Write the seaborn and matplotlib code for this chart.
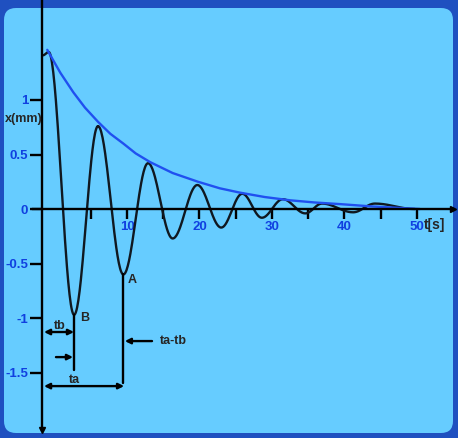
import seaborn as sns
import matplotlib.pyplot as plt
import pandas as pd
import numpy as np
from matplotlib.patches import FancyBboxPatch
from matplotlib.transforms import IdentityTransform

sns.set_style("white")
plt.rcParams['font.family'] = ['Liberation Sans', 'DejaVu Sans']
plt.rcParams['font.weight'] = 'bold'

# extrema of the damped oscillation (t in s, x in mm)
ext_t = [-1.6, -0.8, 2.7, 6.0, 9.5, 12.9, 16.3, 19.7, 23.0, 25.9, 28.6, 31.5, 34.6, 36.9, 41.2, 44.2, 49.7]
ext_x = [1.41, 1.44, -0.97, 0.76, -0.60, 0.42, -0.27, 0.22, -0.17, 0.14, -0.08, 0.09, -0.04, 0.05, -0.03, 0.05, 0.0]

# envelope points
env_t = [-1.0, 0.8, 2.6, 4.2, 6.0, 7.7, 9.5, 11.2, 13.2, 16.3, 19.8, 22.8, 25.6, 29.0, 32.5, 35.9, 39.4, 43.5, 47.0, 50.4]
env_x = [1.46, 1.25, 1.07, 0.93, 0.80, 0.69, 0.60, 0.51, 0.43, 0.33, 0.25, 0.19, 0.15, 0.11, 0.08, 0.06, 0.045, 0.025, 0.012, 0.0]

x_ticks = [5, 10, 15, 20, 25, 30, 35, 40, 45, 50]
x_ticklabels = ['', '10', '', '20', '', '30', '', '40', '', '50']
y_ticks = [-1.5, -1, -0.5, 0, 0.5, 1]
y_ticklabels = ['-1.5', '-1', '-0.5', '0', '0.5', '1']

bg = '#66CCFF'
frame = '#1F50C0'
tick_blue = '#1040E0'
env_blue = '#2050F0'

# smooth curve: half-cosine between successive extrema
tt, xx = [], []
for i in range(len(ext_t) - 1):
    s = np.linspace(0, 1, 40)
    tt.extend(ext_t[i] + s * (ext_t[i + 1] - ext_t[i]))
    xx.extend(ext_x[i + 1] + (ext_x[i] - ext_x[i + 1]) * (1 + np.cos(np.pi * s)) / 2)
curve = pd.DataFrame({'t': tt, 'x': xx})
env = pd.DataFrame({'t': env_t, 'x': env_x})

fig = plt.figure(figsize=(4.58, 4.38), dpi=100)
fig.patch.set_facecolor(frame)
fig.patches.append(FancyBboxPatch((4, 5), 449, 425, boxstyle='round,pad=0,rounding_size=12',
                                  transform=IdentityTransform(), facecolor=bg, edgecolor='none',
                                  zorder=-10, figure=fig))
ax = fig.add_axes([0, 0, 1, 1])
ax.set_facecolor('none')

sns.lineplot(data=curve, x='t', y='x', ax=ax, color='#101820', lw=1.7, sort=False, estimator=None)
sns.lineplot(data=env, x='t', y='x', ax=ax, color=env_blue, lw=1.7, sort=False, estimator=None)

ax.set_xlim(-7.52, 55.66)
ax.set_ylim(-2.10, 1.917)
ax.set_xlabel('')
ax.set_ylabel('')

ax.spines['top'].set_visible(False)
ax.spines['right'].set_visible(False)
ax.spines['left'].set_position(('data', -1.72))
ax.spines['bottom'].set_position(('data', 0))
ax.spines['left'].set_bounds(-2.03, 1.917)
ax.spines['bottom'].set_bounds(-2.97, 54.97)
for sp in ['left', 'bottom']:
    ax.spines[sp].set_linewidth(1.7)
    ax.spines[sp].set_color('black')
ax.plot([54.97], [0], marker='>', color='black', ms=5, clip_on=False)
ax.plot([-1.72], [-2.03], marker='v', color='black', ms=5, clip_on=False)

ax.set_xticks(x_ticks)
ax.set_xticklabels(x_ticklabels)
ax.set_yticks(y_ticks)
ax.set_yticklabels(y_ticklabels)
ax.tick_params(axis='x', direction='out', length=7, width=1.7, color='black',
               labelcolor=tick_blue, labelsize=9.5, pad=1.5, bottom=True)
ax.tick_params(axis='y', direction='out', length=9, width=1.7, color='black',
               labelcolor=tick_blue, labelsize=9.5, pad=1, left=True)
for lab in ax.get_xticklabels() + ax.get_yticklabels():
    lab.set_fontweight('bold')

ax.text(-6.9, 0.83, 'x(mm)', fontsize=9, fontweight='bold', ha='left', va='center')
ax.text(51.0, -0.15, 't[s]', fontsize=10, fontweight='bold', ha='left', va='center')

# construction lines and labels
ax.plot([2.69, 2.69], [-0.97, -1.477], color='black', lw=1.7)
ax.plot([9.45, 9.45], [-0.60, -1.596], color='black', lw=1.7)
ax.text(3.6, -1.0, 'B', fontsize=9, fontweight='bold', ha='left', va='center')
ax.text(10.1, -0.655, 'A', fontsize=9, fontweight='bold', ha='left', va='center')

arrow2 = dict(arrowstyle='<|-|>', color='black', lw=1.7, mutation_scale=8, shrinkA=0, shrinkB=0)
arrow1 = dict(arrowstyle='-|>', color='black', lw=1.7, mutation_scale=8, shrinkA=0, shrinkB=0)
ax.annotate('', xy=(2.69, -1.128), xytext=(-1.45, -1.128), arrowprops=arrow2)
ax.text(0.76, -1.07, 'tb', fontsize=9, fontweight='bold', ha='center', va='center')
ax.annotate('', xy=(2.55, -1.358), xytext=(0.2, -1.358), arrowprops=arrow1)
ax.annotate('', xy=(9.6, -1.624), xytext=(-1.45, -1.624), arrowprops=arrow2)
ax.text(2.8, -1.565, 'ta', fontsize=9, fontweight='bold', ha='center', va='center')
ax.annotate('', xy=(9.7, -1.211), xytext=(13.45, -1.211), arrowprops=arrow1)
ax.text(14.6, -1.211, 'ta-tb', fontsize=9, fontweight='bold', ha='left', va='center')

fig.savefig('out.png', dpi=100, facecolor=frame)
